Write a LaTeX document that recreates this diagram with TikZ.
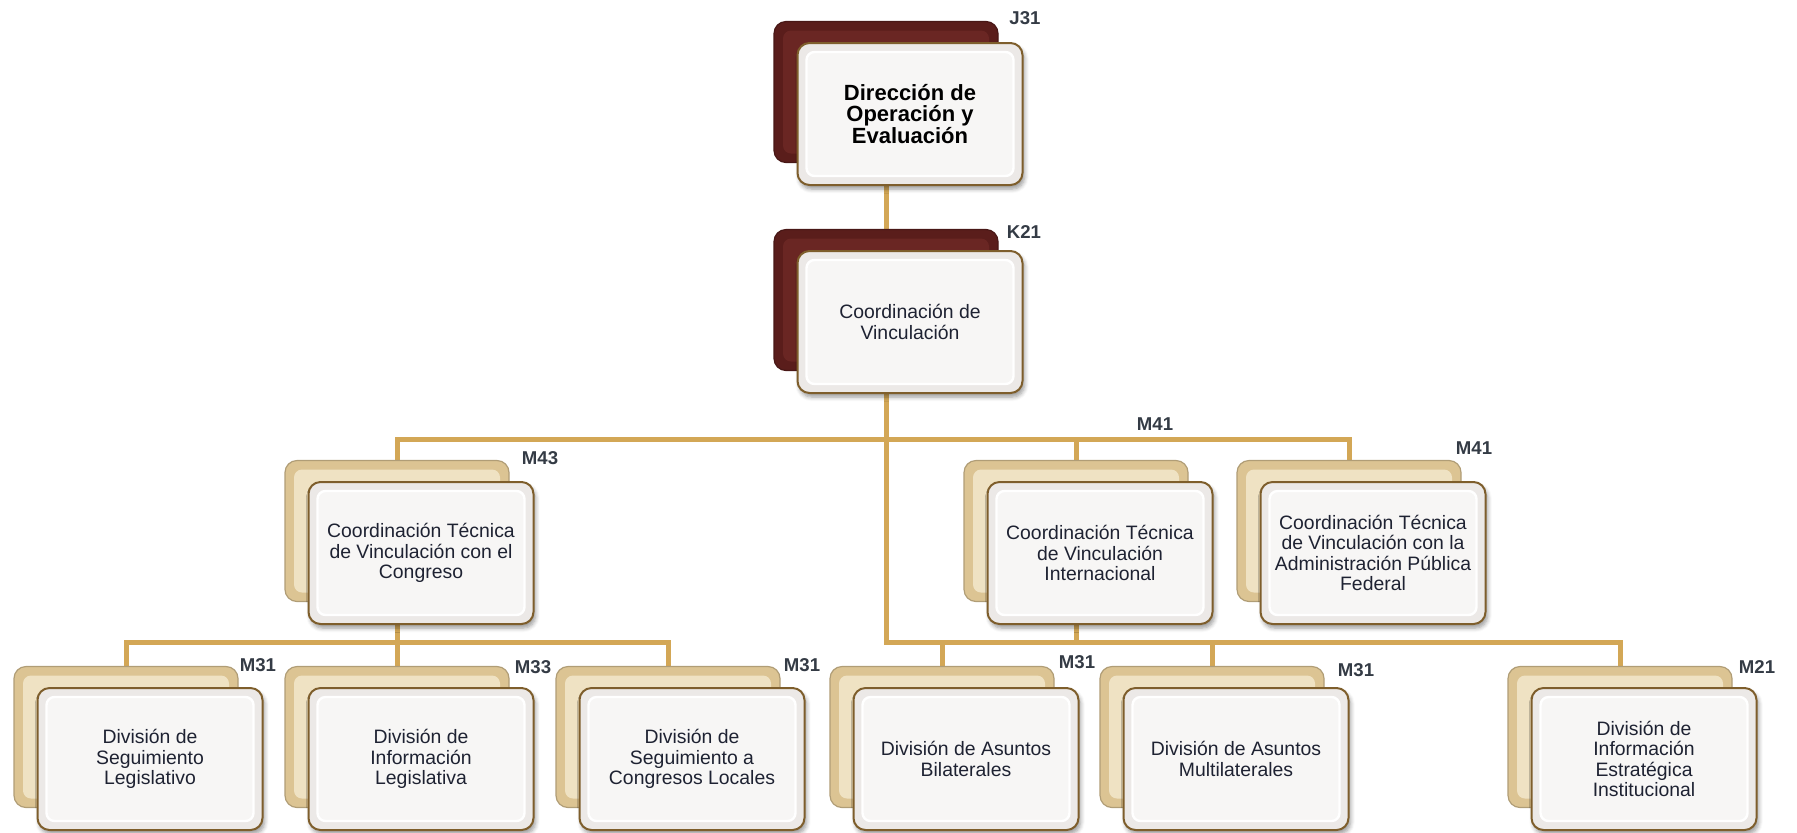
\documentclass[tikz,border=0pt]{standalone}
\usepackage{fontspec}
\setmainfont{Liberation Sans}
\usetikzlibrary{positioning,calc,shadows.blur,backgrounds}
\definecolor{gold}{HTML}{D3A756}
\definecolor{rim}{HTML}{7E5E2C}
\definecolor{paper}{HTML}{ECE9E7}
\definecolor{wine}{HTML}{5A1D1B}
\definecolor{winelit}{HTML}{6A2623}
\definecolor{sand}{HTML}{DCC493}
\definecolor{sandlit}{HTML}{EFE2C3}
\definecolor{ink}{HTML}{1E2232}
\definecolor{slate}{HTML}{343B45}

\begin{document}
\begin{tikzpicture}[x=0.5pt,y=-0.5pt,
    back/.style 2 args={fill=#1,draw=#1!80!black,line width=.6pt,rounded corners=6pt,
                 minimum width=112pt,minimum height=70.5pt,
                 path picture={\fill[#2,rounded corners=4pt]
                   ([shift={(9,9)}]path picture bounding box.north west) rectangle
                   ([shift={(-9,-9)}]path picture bounding box.south east);}},
    unit/.style={draw=rim,line width=1pt,fill=paper,rounded corners=6pt,
                 minimum width=112.5pt,minimum height=71pt,align=center,text=ink,
                 font=\fontsize{9.7}{10.3}\selectfont,
                 blur shadow={shadow blur steps=5,shadow xshift=1pt,shadow yshift=-2pt},
                 path picture={\draw[white,fill=white!60!paper,line width=1.2pt,rounded corners=4pt]
                   ([shift={(9,9)}]path picture bounding box.north west) rectangle
                   ([shift={(-9,-9)}]path picture bounding box.south east);}},
    grade/.style={font=\bfseries\fontsize{9.3}{11}\selectfont,text=slate},
    link/.style={gold,line width=2.5pt}]
  \useasboundingbox (0,0) rectangle (1797,832);

  % back plates
  \node[back={wine}{winelit}] (dirb)   at (886,92)   {};
  \node[back={wine}{winelit}] (coordb) at (886,300)  {};
  \node[back={sand}{sandlit}] (ctcb)   at (397,531)  {};
  \node[back={sand}{sandlit}] (ctib)   at (1076,531) {};
  \node[back={sand}{sandlit}] (ctab)   at (1349,531) {};
  \node[back={sand}{sandlit}] (dslb)   at (126,737)  {};
  \node[back={sand}{sandlit}] (dilb)   at (397,737)  {};
  \node[back={sand}{sandlit}] (dscb)   at (668,737)  {};
  \node[back={sand}{sandlit}] (dabb)   at (942,737)  {};
  \node[back={sand}{sandlit}] (damb)   at (1212,737) {};
  \node[back={sand}{sandlit}] (dieb)   at (1620,737) {};

  % units
  \node[unit,font=\bfseries\fontsize{11}{10.9}\selectfont,text=black] (dir)
    at ([shift={(24,22)}]dirb) {Dirección de\\Operación y\\Evaluación};
  \node[unit] (coord) at ([shift={(24,22)}]coordb) {Coordinación de\\Vinculación};
  \node[unit] (ctc) at ([shift={(24,22)}]ctcb) {Coordinación Técnica\\de Vinculación con el\\Congreso};
  \node[unit] (cti) at ([shift={(24,22)}]ctib) {Coordinación Técnica\\de Vinculación\\Internacional};
  \node[unit] (cta) at ([shift={(24,22)}]ctab) {Coordinación Técnica\\de Vinculación con la\\Administración Pública\\Federal};
  \node[unit] (dsl) at ([shift={(24,22)}]dslb) {División de\\Seguimiento\\Legislativo};
  \node[unit] (dil) at ([shift={(24,22)}]dilb) {División de\\Información\\Legislativa};
  \node[unit] (dsc) at ([shift={(24,22)}]dscb) {División de\\Seguimiento a\\Congresos Locales};
  \node[unit] (dab) at ([shift={(24,22)}]dabb) {División de Asuntos\\Bilaterales};
  \node[unit] (dam) at ([shift={(24,22)}]damb) {División de Asuntos\\Multilaterales};
  \node[unit] (die) at ([shift={(24,22)}]dieb) {División de\\Información\\Estratégica\\Institucional};

  % level codes
  \node[grade] (gdir)   at (1025,18)  {J31};
  \node[grade] (gcoord) at (1024,232) {K21};
  \node[grade] (gctc)   at (540,458)  {M43};
  \node[grade] (gcti)   at (1155,424) {M41};
  \node[grade] (gcta)   at (1474,448) {M41};
  \node[grade] (gdsl)   at (258,665)  {M31};
  \node[grade] (gdil)   at (533,667)  {M33};
  \node[grade] (gdsc)   at (802,665)  {M31};
  \node[grade] (gdab)   at (1077,662) {M31};
  \node[grade] (gdam)   at (1356,670) {M31};
  \node[grade] (gdie)   at (1757,667) {M21};

  \coordinate (busa) at (0,439);
  \coordinate (busb) at (0,642);

  \begin{scope}[on background layer]
    \draw[link] (dirb.center) -- (coordb.center) -- (coordb.center |- busb) -| (dieb.center);
    \draw[link] (ctcb.center) |- (ctab.center |- busa) -- (ctab.center);
    \draw[link] (ctib.center |- busa) -- (ctib.center |- busb);
    \draw[link] (dabb.center |- busb) -- (dabb.center);
    \draw[link] (damb.center |- busb) -- (damb.center);
    \draw[link] (ctcb.center) -- (dilb.center);
    \draw[link] (dslb.center) |- (dscb.center |- busb) -- (dscb.center);
  \end{scope}
\end{tikzpicture}
\end{document}
